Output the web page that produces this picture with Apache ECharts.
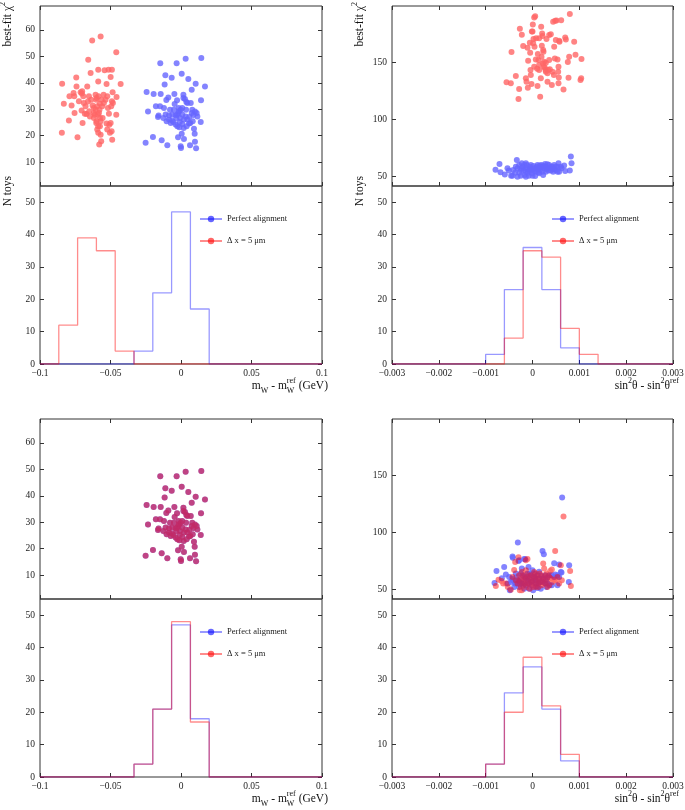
<!DOCTYPE html>
<html>
<head>
<meta charset="utf-8">
<script src="https://cdn.jsdelivr.net/npm/echarts@6/dist/echarts.min.js"></script>
<style>
html, body { margin: 0; padding: 0; background: #fff; }
#chart { width: 685px; height: 810px; }
</style>
</head>
<body>
<div id="chart"></div>
<script>
// ---------- tick labels ----------
var mwTicks = [-0.1, -0.05, 0, 0.05, 0.1];
var s2Ticks = [-0.003, -0.002, -0.001, 0, 0.001, 0.002, 0.003];
var chi2TicksMw = [10, 20, 30, 40, 50, 60];
var chi2TicksS2 = [50, 100, 150];
var countTicks = [0, 10, 20, 30, 40, 50];

// ---------- histogram bin edges ----------
var mwEdges = [-0.1, -0.08667, -0.07333, -0.06, -0.04667, -0.03333, -0.02, -0.00667,
               0.00667, 0.02, 0.03333, 0.04667, 0.06, 0.07333, 0.08667, 0.1];
var s2Edges = [-0.003, -0.0026, -0.0022, -0.0018, -0.0014, -0.001, -0.0006, -0.0002,
               0.0002, 0.0006, 0.001, 0.0014, 0.0018, 0.0022, 0.0026, 0.003];

// ---------- histogram counts (N toys per bin) ----------
var mwHistPerfect  = [0, 0, 0, 0, 0, 4, 22, 47, 17, 0, 0, 0, 0, 0, 0];
var mwHistShifted  = [0, 12, 39, 35, 4, 0, 0, 0, 0, 0, 0, 0, 0, 0, 0];
var s2HistPerfect  = [0, 0, 0, 0, 0, 3, 23, 36, 23, 5, 0, 0, 0, 0, 0];
var s2HistShifted  = [0, 0, 0, 0, 0, 0, 8, 35, 33, 11, 3, 0, 0, 0, 0];
var mwHistPerfect2 = [0, 0, 0, 0, 0, 4, 21, 47, 18, 0, 0, 0, 0, 0, 0];
var mwHistShifted2 = [0, 0, 0, 0, 0, 4, 21, 48, 17, 0, 0, 0, 0, 0, 0];
var s2HistPerfect2 = [0, 0, 0, 0, 0, 4, 26, 34, 21, 5, 0, 0, 0, 0, 0];
var s2HistShifted2 = [0, 0, 0, 0, 0, 4, 20, 37, 22, 7, 0, 0, 0, 0, 0];

// ---------- best-fit chi2 vs fitted shift ----------
var mwChi2Shifted = [
  [-0.0843,39.6],[-0.0831,32.1],[-0.0845,21.1],[-0.0795,25.7],[-0.0791,34.9],[-0.0776,31.4],[-0.0755,28.6],[-0.0743,42.0],[-0.0741,38.6],[-0.0734,19.4],
  [-0.0762,36.1],[-0.0757,34.9],[-0.0724,33.0],[-0.0712,36.4],[-0.0705,29.5],[-0.0703,35.9],[-0.0701,36.8],[-0.0698,24.8],[-0.0693,34.9],[-0.0689,32.4],
  [-0.0682,28.3],[-0.0670,28.2],[-0.0665,38.6],[-0.0658,48.7],[-0.0651,29.2],[-0.0641,43.7],[-0.0637,33.6],[-0.0630,56.0],[-0.0618,30.5],[-0.0611,27.9],
  [-0.0606,29.8],[-0.0601,33.6],[-0.0599,34.2],[-0.0594,31.1],[-0.0589,27.9],[-0.0585,34.9],[-0.0580,16.7],[-0.0575,23.6],[-0.0575,26.7],[-0.0570,57.5],
  [-0.0587,44.9],[-0.0587,40.5],[-0.0570,20.4],[-0.0566,17.9],[-0.0587,21.1],[-0.0601,24.8],[-0.0594,22.3],[-0.0582,28.6],[-0.0563,33.6],[-0.0556,26.7],
  [-0.0547,32.4],[-0.0542,44.7],[-0.0528,39.5],[-0.0523,34.9],[-0.0518,30.5],[-0.0511,28.3],[-0.0514,44.9],[-0.0499,42.2],[-0.0490,44.9],[-0.0485,36.4],
  [-0.0490,33.0],[-0.0495,31.1],[-0.0499,24.8],[-0.0492,21.7],[-0.0488,18.5],[-0.0483,32.4],[-0.0459,51.5],[-0.0459,27.9],[-0.0457,34.6],[-0.0428,39.5],
  [-0.0528,24.6],[-0.0509,24.1],[-0.0523,22.3],[-0.0504,21.1],[-0.0618,26.7],[-0.0646,27.3],[-0.0653,34.9],[-0.0660,32.9],[-0.0677,31.1],[-0.0627,31.4],
  [-0.0606,35.5],[-0.0575,32.1],[-0.0559,31.1],[-0.0535,33.6],[-0.0549,35.5],[-0.0578,29.8],[-0.0618,28.6],[-0.0599,25.5],[-0.0587,23.6],[-0.0570,25.5]
];
var mwChi2Perfect = [
  [-0.0251,17.3],[-0.0234,29.1],[-0.0199,19.5],[-0.0244,36.5],[-0.0194,35.8],[-0.0178,31.1],[-0.0159,27.6],[-0.0163,27.1],[-0.0149,31.1],[-0.0147,47.4],
  [-0.0144,35.8],[-0.0137,18.3],[-0.0116,39.3],[-0.0111,42.8],[-0.0104,33.5],[-0.0121,30.5],[-0.0097,16.4],[-0.0090,34.4],[-0.0085,26.1],[-0.0078,29.8],
  [-0.0066,41.9],[-0.0064,25.7],[-0.0054,25.2],[-0.0047,35.8],[-0.0045,32.0],[-0.0038,27.7],[-0.0031,47.4],[-0.0028,33.4],[-0.0026,23.6],[-0.0021,19.4],
  [-0.0017,30.5],[-0.0014,29.2],[-0.0007,26.7],[-0.0002,16.0],[0.0000,15.4],[0.0005,43.4],[0.0005,20.7],[0.0009,24.4],[0.0017,35.5],[0.0017,34.2],
  [0.0019,22.9],[0.0021,18.8],[0.0028,33.9],[0.0033,49.1],[0.0033,27.3],[0.0038,32.7],[0.0045,32.4],[0.0052,41.4],[0.0059,27.1],[0.0064,16.4],
  [0.0066,24.8],[0.0069,32.4],[0.0076,28.6],[0.0076,37.4],[0.0083,25.5],[0.0088,27.8],[0.0092,22.6],[0.0097,20.7],[0.0099,17.7],[0.0104,39.6],
  [0.0107,15.3],[0.0111,28.6],[0.0116,27.3],[0.0140,25.2],[0.0142,33.4],[0.0144,49.4],[0.0170,38.6],[-0.0050,29.8],[-0.0033,26.7],[-0.0019,28.6],
  [-0.0002,29.8],[-0.0009,25.2],[0.0009,30.5],[0.0021,26.1],[0.0036,29.8],[0.0045,26.1],[0.0009,28.0],[-0.0026,28.0],[-0.0062,28.0],[-0.0085,27.6],
  [-0.0109,28.0],[-0.0125,26.7],[-0.0102,25.5],[-0.0073,24.8],[-0.0038,24.2],[-0.0012,23.2],[0.0040,23.6],[0.0057,24.6],[0.0080,29.8],[0.0099,29.1]
];
var s2Chi2Shifted = [
  [-0.000555,132.5],[-0.000463,131.6],[-0.000448,159.1],[-0.000356,138.0],[-0.000299,117.8],[-0.000285,126.6],[-0.000270,179.5],[-0.000228,174.3],[-0.000199,164.3],[-0.000128,133.0],
  [-0.000107,162.9],[-0.000100,127.8],[-0.000093,151.5],[-0.000057,167.3],[-0.000050,158.5],[-0.000043,143.3],[-0.000036,138.9],[-0.000021,131.0],[-0.000014,177.2],[0.000000,177.2],
  [0.000007,183.3],[0.000014,166.7],[0.000021,170.5],[0.000036,189.5],[0.000043,163.7],[0.000057,190.6],[0.000071,152.6],[0.000078,171.1],[0.000100,144.4],[0.000107,129.2],
  [0.000114,157.3],[0.000128,152.0],[0.000142,147.7],[0.000142,171.1],[0.000164,119.9],[0.000178,136.0],[0.000185,181.3],[0.000192,155.0],[0.000199,164.6],[0.000206,175.4],
  [0.000214,173.1],[0.000221,149.1],[0.000235,159.4],[0.000242,146.2],[0.000249,150.6],[0.000263,145.3],[0.000278,143.3],[0.000285,141.8],[0.000299,170.5],[0.000320,140.4],
  [0.000335,143.3],[0.000356,174.0],[0.000370,143.9],[0.000391,174.6],[0.000413,130.1],[0.000427,141.8],[0.000441,185.7],[0.000456,138.9],[0.000463,163.7],[0.000477,153.5],
  [0.000484,186.5],[0.000498,169.6],[0.000512,186.8],[0.000534,152.6],[0.000548,141.8],[0.000555,146.2],[0.000562,136.8],[0.000569,169.0],[0.000577,168.1],[0.000612,187.1],
  [0.000662,126.3],[0.000698,171.9],[0.000712,170.2],[0.000754,150.3],[0.000769,136.5],[0.000783,155.0],[0.000797,192.4],[0.000890,168.1],[0.000918,156.7],[0.001025,134.5],
  [0.001039,136.0],[0.001046,152.9],[0.000555,131.6],[0.000320,133.0],[0.000228,160.8],[-0.000142,136.0],[0.000285,149.7],[0.000036,146.2],[0.000356,152.0],[0.000142,143.3]
];
var s2Chi2Perfect = [
  [-0.000790,55.8],[-0.000705,60.8],[-0.000683,53.5],[-0.000591,51.5],[-0.000534,57.0],[-0.000505,55.0],[-0.000456,50.6],[-0.000427,50.6],[-0.000335,64.3],[-0.000320,57.0],
  [-0.000285,53.2],[-0.000249,50.6],[-0.000228,61.4],[-0.000214,58.5],[-0.000192,55.0],[-0.000171,51.2],[-0.000142,57.0],[-0.000121,59.9],[-0.000100,53.2],[-0.000078,50.6],
  [-0.000057,58.5],[-0.000036,55.6],[-0.000014,52.6],[0.000000,50.6],[0.000021,59.1],[0.000043,54.7],[0.000071,57.0],[0.000107,59.9],[0.000128,53.5],[0.000142,57.0],
  [0.000164,55.6],[0.000192,59.9],[0.000214,54.1],[0.000242,57.0],[0.000285,58.5],[0.000320,60.5],[0.000342,55.0],[0.000370,57.0],[0.000399,58.5],[0.000427,56.1],
  [0.000463,59.9],[0.000498,58.5],[0.000534,54.1],[0.000555,61.4],[0.000605,58.5],[0.000676,59.6],[0.000698,54.7],[0.000797,55.0],[0.000819,67.3],[0.000833,61.4],
  [-0.000356,58.5],[-0.000285,59.9],[-0.000178,59.9],[-0.000107,56.1],[-0.000036,59.9],[0.000036,57.0],[0.000107,56.1],[0.000178,57.9],[0.000249,59.1],[0.000320,57.0],
  [0.000391,55.0],[0.000463,56.1],[0.000534,58.5],[-0.000413,55.6],[-0.000249,55.6],[-0.000142,54.1],[-0.000071,55.0],[0.000071,54.1],[0.000142,52.6],[0.000214,58.5],
  [0.000285,54.1],[0.000356,59.9],[0.000427,58.5],[0.000498,55.6],[-0.000370,53.2],[-0.000320,49.7],[-0.000142,49.7],[0.000057,50.3],[0.000228,51.2],[0.000270,60.8],
  [0.000569,54.1],[0.000619,57.0],[-0.000228,57.0],[-0.000050,57.0],[0.000000,55.6],[0.000093,58.5],[0.000157,59.4],[0.000299,56.1],[0.000441,54.1],[-0.000142,61.4]
];
// lower row, m_W: both alignments give the same toys as the perfect case above
var mwChi2Perfect2 = mwChi2Perfect;
var mwChi2Shifted2 = mwChi2Perfect;
var s2Chi2Perfect2 = [
  [-0.000811,55.6],[-0.000769,66.1],[-0.000655,59.7],[-0.000605,69.6],[-0.000569,62.9],[-0.000534,55.0],[-0.000484,49.1],[-0.000427,78.7],[-0.000420,77.6],[-0.000356,55.0],
  [-0.000335,60.9],[-0.000313,91.1],[-0.000299,74.9],[-0.000285,75.5],[-0.000228,68.2],[-0.000178,76.7],[-0.000157,76.4],[-0.000107,63.8],[-0.000085,69.6],[-0.000071,59.4],
  [-0.000036,56.5],[0.000000,66.7],[0.000036,60.9],[0.000071,57.9],[0.000107,51.2],[0.000142,65.5],[0.000192,61.7],[0.000214,83.7],[0.000242,80.8],[0.000270,62.3],
  [0.000320,60.3],[0.000370,53.5],[0.000413,62.3],[0.000463,72.9],[0.000484,62.9],[0.000534,62.3],[0.000569,71.7],[0.000605,65.2],[0.000619,64.7],[0.000633,130.6],
  [0.000776,56.5],[0.000783,71.1],[-0.000270,54.4],[-0.000192,55.0],[-0.000249,57.9],[-0.000142,59.4],[-0.000014,53.5],[0.000164,56.5],[-0.000356,63.8],[-0.000214,62.3],
  [0.000036,63.8],[0.000285,57.9],[-0.000427,59.4],[-0.000370,55.0],[0.000569,60.9],[-0.000285,52.1],[-0.000142,53.5],[-0.000071,50.6],[0.000085,52.6],[-0.000391,52.1],
  [-0.000463,56.5],[-0.000249,63.8],[-0.000107,57.9],[-0.000036,62.3],[0.000071,55.0],[0.000142,59.4],[0.000214,56.5],[0.000320,55.0],[-0.000320,57.9],[0.000463,60.9],
  [-0.000427,57.9],[-0.000498,60.9],[-0.000285,56.5],[-0.000178,50.6],[0.000014,49.1],[0.000178,50.6],[0.000299,52.1],[0.000534,53.5],[-0.000157,60.9],[-0.000057,63.8],
  [0.000107,62.3],[0.000228,59.4],[0.000356,62.3],[-0.000228,55.0],[-0.000085,55.0],[0.000057,59.4],[0.000128,55.0],[0.000270,55.0],[0.000413,53.5],[0.000000,57.3]
];
var s2Chi2Shifted2 = [
  [-0.000783,52.9],[-0.000726,58.5],[-0.000662,57.3],[-0.000626,55.0],[-0.000569,55.0],[-0.000527,52.1],[-0.000463,49.7],[-0.000391,67.0],[-0.000370,74.0],[-0.000299,78.2],
  [-0.000285,57.3],[-0.000249,59.4],[-0.000228,49.1],[-0.000199,53.5],[-0.000178,62.3],[-0.000142,75.5],[-0.000107,76.7],[-0.000071,55.0],[-0.000036,57.9],[0.000000,60.9],
  [0.000036,65.2],[0.000071,63.8],[0.000107,55.0],[0.000142,59.4],[0.000178,56.5],[0.000228,72.6],[0.000249,68.2],[0.000270,59.4],[0.000299,63.8],[0.000342,61.4],
  [0.000377,66.1],[0.000413,67.3],[0.000463,58.5],[0.000484,83.7],[0.000534,60.9],[0.000569,55.0],[0.000605,71.1],[0.000626,57.9],[0.000662,113.9],[0.000804,66.1],
  [0.000819,52.9],[-0.000320,55.0],[-0.000249,52.1],[-0.000214,56.5],[-0.000157,59.4],[-0.000128,52.1],[-0.000085,62.3],[-0.000057,50.6],[-0.000014,55.0],[0.000014,52.1],
  [0.000057,57.9],[0.000085,60.9],[0.000128,52.1],[0.000157,63.8],[0.000199,53.5],[0.000228,57.9],[0.000285,55.0],[0.000320,58.5],[0.000356,53.5],[0.000427,56.5],
  [0.000498,57.9],[-0.000285,62.3],[-0.000178,57.9],[-0.000107,55.0],[-0.000036,62.3],[0.000036,53.5],[0.000107,59.4],[0.000178,62.3],[0.000249,55.0],[0.000391,59.4],
  [-0.000228,65.2],[-0.000142,66.7],[-0.000071,59.4],[0.000000,56.5],[0.000071,52.1],[0.000142,55.0],[0.000214,60.9],[0.000285,62.3],[-0.000270,49.1],[-0.000157,55.0],
  [-0.000014,59.4],[0.000128,57.3],[0.000356,60.9],[-0.000427,60.9],[-0.000356,57.9],[-0.000199,60.9],[-0.000107,60.9],[0.000057,62.3],[0.000199,57.9],[0.000320,52.1]
];

var NAME_P = 'Perfect alignment';
var NAME_S = 'Δ x = 5 μm';
var FONT = 'Liberation Serif';
var DOT_P = 'rgba(0,0,255,0.6)', DOT_S = 'rgba(255,0,0,0.6)';
var LINE_P = 'rgba(0,0,255,0.4)', LINE_S = 'rgba(255,0,0,0.45)';
// the toy markers are drawn opaque on their own layers; each layer is then faded as a whole
var LAYER_P = 1, LAYER_S = 2, LAYER_ALPHA = 0.6;

var rich = {
  t:   {fontFamily: FONT, fontSize: 11.5, lineHeight: 18, verticalAlign: 'middle', fill: '#111'},
  sub: {fontFamily: FONT, fontSize: 8, lineHeight: 8, verticalAlign: 'bottom', fill: '#111'},
  sup: {fontFamily: FONT, fontSize: 8, lineHeight: 8, verticalAlign: 'top', fill: '#111'},
  // superscript stacked over the preceding subscript "W"
  supw: {fontFamily: FONT, fontSize: 8, lineHeight: 8, verticalAlign: 'top', fill: '#111', padding: [0, 0, 0, -7.5]}
};
var mwTitle = '{t|m}{sub|W}{t| - m}{sub|W}{supw|ref}{t| (GeV)}';
var s2Title = '{t|sin}{sup|2}{t|θ - sin}{sup|2}{t|θ}{sup|ref}';

var panels = [
  {left: 40, top: 6, width: 282, xMin: -0.1, xMax: 0.1, xTicks: mwTicks, yMin: 1, yMax: 69, yTicks: chi2TicksMw,
   dotsP: mwChi2Perfect, dotsS: mwChi2Shifted, edges: mwEdges, histP: mwHistPerfect, histS: mwHistShifted, names: true, title: mwTitle},
  {left: 392, top: 6, width: 281, xMin: -0.003, xMax: 0.003, xTicks: s2Ticks, yMin: 41.5, yMax: 199.5, yTicks: chi2TicksS2,
   dotsP: s2Chi2Perfect, dotsS: s2Chi2Shifted, edges: s2Edges, histP: s2HistPerfect, histS: s2HistShifted, names: true, title: s2Title},
  {left: 40, top: 419, width: 282, xMin: -0.1, xMax: 0.1, xTicks: mwTicks, yMin: 1, yMax: 69, yTicks: chi2TicksMw,
   dotsP: mwChi2Perfect2, dotsS: mwChi2Shifted2, edges: mwEdges, histP: mwHistPerfect2, histS: mwHistShifted2, names: false, title: mwTitle},
  {left: 392, top: 419, width: 281, xMin: -0.003, xMax: 0.003, xTicks: s2Ticks, yMin: 41.5, yMax: 199.5, yTicks: chi2TicksS2,
   dotsP: s2Chi2Perfect2, dotsS: s2Chi2Shifted2, edges: s2Edges, histP: s2HistPerfect2, histS: s2HistShifted2, names: false, title: s2Title}
];
var SC_H = 180, HI_H = 178;

function minusFmt(v) {
  return v < 0 ? '\u2212' + (-v) : String(v);
}

function axis(gridIndex, position, min, max, ticks, labels) {
  var vertical = position === 'left' || position === 'right';
  return {
    type: 'value', gridIndex: gridIndex, position: position, min: min, max: max,
    axisLine: {show: false, onZero: false},
    splitLine: {show: false},
    axisTick: {show: true, inside: true, length: 4, customValues: ticks, lineStyle: {color: '#333', width: 1}},
    axisLabel: {
      show: labels, customValues: ticks, margin: vertical ? 5 : 4,
      fontFamily: FONT, fontSize: 9.5, color: '#222', formatter: minusFmt
    }
  };
}

function steps(edges, counts) {
  var d = counts.map(function (c, i) { return [edges[i], c]; });
  d.push([edges[edges.length - 1], counts[counts.length - 1]]);
  return d;
}

var grids = [], xAxes = [], yAxes = [], histSeries = [], dotSeries = [], legends = [], graphics = [];

panels.forEach(function (p) {
  var gs = grids.length;
  grids.push({left: p.left, top: p.top, width: p.width, height: SC_H, show: true,
              borderColor: '#333', borderWidth: 1, backgroundColor: 'transparent', outerBoundsMode: 'none'});
  grids.push({left: p.left, top: p.top + SC_H, width: p.width, height: HI_H, show: true,
              borderColor: '#333', borderWidth: 1, backgroundColor: 'transparent', outerBoundsMode: 'none'});
  var gh = gs + 1;

  var xs = xAxes.length;
  xAxes.push(axis(gs, 'bottom', p.xMin, p.xMax, p.xTicks, false));
  xAxes.push(axis(gs, 'top', p.xMin, p.xMax, p.xTicks, false));
  var xh = xAxes.length;
  xAxes.push(axis(gh, 'bottom', p.xMin, p.xMax, p.xTicks, true));

  var ys = yAxes.length;
  yAxes.push(axis(gs, 'left', p.yMin, p.yMax, p.yTicks, true));
  yAxes.push(axis(gs, 'right', p.yMin, p.yMax, p.yTicks, false));
  var yh = yAxes.length;
  yAxes.push(axis(gh, 'left', 0, 55, countTicks, true));
  yAxes.push(axis(gh, 'right', 0, 55, countTicks, false));

  [[NAME_P, p.histP, LINE_P, DOT_P], [NAME_S, p.histS, LINE_S, DOT_S]].forEach(function (h) {
    histSeries.push({
      name: h[0], type: 'line', step: 'end', xAxisIndex: xh, yAxisIndex: yh,
      data: steps(p.edges, h[1]), symbol: 'circle', showSymbol: false, silent: true,
      lineStyle: {color: h[2], width: 1.3}, itemStyle: {color: h[3]}
    });
  });
  [[NAME_P, p.dotsP, '#0000ff', LAYER_P], [NAME_S, p.dotsS, '#ff0000', LAYER_S]].forEach(function (d) {
    dotSeries.push({
      name: d[0], type: 'scatter', xAxisIndex: xs, yAxisIndex: ys, zlevel: d[3],
      data: d[1], symbol: 'circle', symbolSize: 6, silent: true,
      itemStyle: {color: d[2]}
    });
  });

  legends.push({
    orient: 'vertical', left: p.left + 159, top: p.top + 207, padding: 0,
    data: [NAME_P, NAME_S], itemWidth: 22, itemHeight: 8, itemGap: 10, selectedMode: false,
    textStyle: {fontFamily: FONT, fontSize: 8.5, color: '#222', lineHeight: 12}
  });

  graphics.push({
    type: 'text', x: p.left + p.width + 6, y: p.top + SC_H + HI_H + 22,
    style: {text: p.title, rich: rich, align: 'right', verticalAlign: 'middle', fill: '#111'}
  });
  if (p.names) {
    graphics.push({
      type: 'text', x: p.left - 32, y: p.top - 4, rotation: Math.PI / 2,
      style: {text: '{t|best-fit χ}{sup|2}', rich: rich, align: 'right', verticalAlign: 'middle', fill: '#111'}
    });
    graphics.push({
      type: 'text', x: p.left - 32, y: p.top + SC_H - 10, rotation: Math.PI / 2,
      style: {text: '{t|N toys}', rich: rich, align: 'right', verticalAlign: 'middle', fill: '#111'}
    });
  }
});

var chart = echarts.init(document.getElementById('chart'));
chart.setOption({
  animation: false,
  backgroundColor: '#fff',
  grid: grids,
  xAxis: xAxes,
  yAxis: yAxes,
  legend: legends,
  graphic: graphics,
  series: histSeries.concat(dotSeries)
});

function fadeLayers() {
  [LAYER_P, LAYER_S].forEach(function (z) {
    var c = document.querySelector('#chart canvas[data-zr-dom-id="zr_' + z + '"]');
    if (c) c.style.opacity = LAYER_ALPHA;
  });
}
fadeLayers();
chart.on('finished', fadeLayers);
</script>
</body>
</html>
